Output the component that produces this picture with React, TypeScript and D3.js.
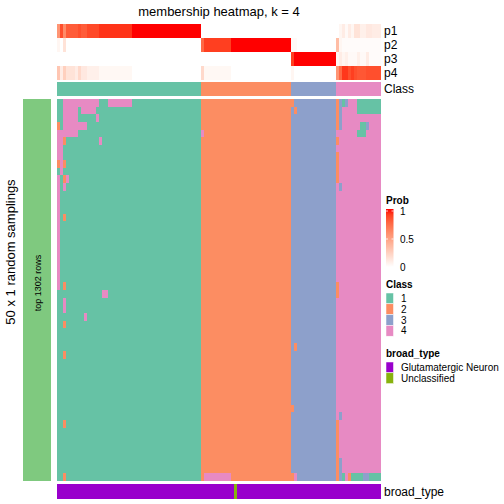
import React from "react";
import * as d3 from "d3";

// ---------- DATA ----------
const title = "membership heatmap, k = 4";
const nRows = 50;
// consensus class of each of the 108 samples (column order)
const sampleClass: number[] = [
  1,1,1,1,1,1,1,1,1,1,1,1,1,1,1,1,1,1,1,1,1,1,1,1,1,1,1,1,1,1,1,1,1,1,1,1,1,1,1,1,1,1,1,1,1,1,1,1,
  2,2,2,2,2,2,2,2,2,2,2,2,2,2,2,2,2,2,2,2,2,2,2,2,2,2,2,2,2,2,
  3,3,3,3,3,3,3,3,3,3,3,3,3,3,3,
  4,4,4,4,4,4,4,4,4,4,4,4,4,4,4,
];
const p1: number[] = [
  0.55,0.85,0.6,0.8,0.8,0.8,0.8,0.85,0.8,0.8,0.87,0.87,0.87,0.87,
  0.93,0.93,0.93,0.93,0.93,0.93,0.93,0.93,0.93,0.93,0.93,
  1,1,1,1,1,1,1,1,1,1,1,1,1,1,1,1,1,1,1,1,1,1,1,
  0,0,0,0,0,0,0,0,0,0,0,0,0,0,0,0,0,0,0,0,0,0,0,0,0,0,0,0,0,0,
  0,0,0,0,0,0,0,0,0,0,0,0,0,0,0,
  0,0.05,0.1,0.03,0.1,0.05,0.15,0.15,0.08,0.08,0.12,0.12,0.1,0.1,0.1,
];
const p2: number[] = [
  0.05,0,0.15,0,0,0,0,0,0,0,0,0,0,0,0,0,0,0,0,0,0,0,0,0,0,0,0,0,0,0,0,0,0,0,0,0,0,0,0,0,0,0,0,0,0,0,0,0,
  0.75,0.9,0.9,0.9,0.9,0.9,0.9,0.9,0.9,0.9,1,1,1,1,1,1,1,1,1,1,1,1,1,1,1,1,1,1,1,1,
  0.03,0.03,0,0,0,0,0,0,0,0,0,0,0,0,0,
  0.35,0.05,0.02,0.02,0.02,0.02,0.02,0.02,0.02,0.02,0.02,0.02,0.02,0.02,0.02,
];
const p3: number[] = [
  0,0,0,0,0,0,0,0,0,0,0,0,0,0,0,0,0,0,0,0,0,0,0,0,0,0,0,0,0,0,0,0,0,0,0,0,0,0,0,0,0,0,0,0,0,0,0,0,
  0,0,0,0,0,0,0,0,0,0,0,0,0,0,0,0,0,0,0,0,0,0,0,0,0,0,0,0,0,0,
  0.9,1,1,1,1,1,1,1,1,1,1,1,1,1,1,
  0.05,0.1,0.05,0.08,0.03,0.03,0.03,0.08,0.03,0.03,0.1,0.02,0.02,0.02,0.02,
];
const p4: number[] = [
  0.3,0.1,0.25,0.15,0.15,0.15,0.1,0.2,0.12,0.12,0.08,0.08,0.08,0.08,
  0.04,0.04,0.04,0.04,0.04,0.04,0.04,0.04,0.04,0.04,0.04,
  0,0,0,0,0,0,0,0,0,0,0,0,0,0,0,0,0,0,0,0,0,0,0,
  0.2,0.04,0.04,0.04,0.04,0.04,0.04,0.04,0.04,0.04,0,0,0,0,0,0,0,0,0,0,0,0,0,0,0,0,0,0,0,0,
  0.05,0,0,0,0,0,0,0,0,0,0,0,0,0,0,
  0.55,0.75,0.92,0.92,0.85,0.9,0.85,0.82,0.82,0.82,0.85,0.85,0.85,0.85,0.85,
];
// sampling rows that disagree with the consensus: [row, firstCol, lastCol, class]
const deviations: [number, number, number, number][] = [
  [0,2,13,4],[0,17,24,4],[1,2,6,4],[1,8,12,4],[2,2,6,4],[2,13,13,4],
  [3,0,0,2],[3,2,9,4],[4,0,6,4],[5,0,1,4],[5,2,2,2],[5,14,14,4],
  [6,0,1,4],[7,0,1,4],[8,0,0,2],[8,1,1,4],[8,2,2,2],[9,1,1,4],
  [10,0,0,4],[10,2,2,2],[10,3,3,4],[11,0,0,4],[11,2,2,4],
  [12,0,0,4],[13,0,0,4],[14,0,0,4],[15,0,0,4],[15,2,2,2],[16,0,0,4],[17,0,0,4],
  [18,0,0,4],[19,0,0,4],[20,0,0,4],[21,0,0,4],[22,0,0,4],[23,0,0,4],[24,0,0,4],[24,2,2,2],
  [25,15,16,4],[26,2,2,4],[27,2,2,4],[28,9,9,4],[29,2,2,2],[33,2,2,2],[42,2,2,2],[49,2,2,2],
  [4,48,48,4],[49,49,57,4],
  [0,78,78,2],[1,79,79,2],[32,79,79,2],[40,78,78,2],[49,78,78,2],[49,79,79,4],
  [0,93,93,2],[1,93,93,2],[2,93,93,2],[3,93,93,2],[5,93,93,2],[7,93,93,2],[8,93,93,2],
  [9,93,93,2],[10,93,93,2],[24,93,93,2],[25,93,93,2],
  [42,93,93,2],[43,93,93,2],[44,93,93,2],[45,93,93,2],[46,93,93,2],[47,93,93,2],[48,93,93,2],[49,93,93,2],
  [0,94,94,3],[1,94,94,3],[2,94,94,3],[3,94,94,3],[11,94,94,3],[41,94,94,3],
  [47,94,94,3],[48,94,94,3],[49,94,94,3],
  [0,95,95,1],[0,96,96,3],[0,100,107,1],[1,100,107,1],[3,101,102,1],[3,103,103,3],[4,100,102,1],
  [49,95,95,1],[49,96,96,4],[49,97,97,2],[49,98,101,1],[49,102,103,3],[49,104,107,1],
];
const broadType: string[] = sampleClass.map((_, i) => (i === 59 ? "Unclassified" : "Glutamatergic Neuron"));
const classLevels = ["1", "2", "3", "4"];
const broadLevels = ["Glutamatergic Neuron", "Unclassified"];
const probTicks = [0, 0.5, 1];
const probRowNames = ["p1", "p2", "p3", "p4"];

// ---------- STYLE ----------
const classColors: Record<number, string> = { 1: "#66C2A5", 2: "#FC8D62", 3: "#8DA0CB", 4: "#E78AC3" };
const broadColors: Record<string, string> = { "Glutamatergic Neuron": "#9900CC", Unclassified: "#88B20E" };
const font = "Liberation Sans, Arial, sans-serif";

export default function App() {
  const nCols = sampleClass.length;
  const cols = d3.range(nCols);
  const x = d3.scaleBand<number>().domain(cols).range([57, 381]);
  const yBody = d3.scaleBand<number>().domain(d3.range(nRows)).range([99, 481]);
  const yProb = d3.scaleBand<string>().domain(probRowNames).range([24, 80]);
  const probColor = d3.scaleLinear<string>().domain([0, 1]).range(["#FFFFFF", "#FF0000"]).interpolate(d3.interpolateLab);

  const matrix: number[][] = d3.range(nRows).map(() => sampleClass.slice());
  deviations.forEach(([r, a, b, c]) => {
    for (let j = a; j <= b; j++) matrix[r][j] = c;
  });
  const probs = [p1, p2, p3, p4];

  const cells: React.ReactElement[] = [];
  matrix.forEach((row, r) =>
    row.forEach((c, j) =>
      cells.push(
        <rect key={`c${r}-${j}`} x={x(j)} y={yBody(r)} width={x.bandwidth() + 0.3} height={yBody.bandwidth() + 0.3} fill={classColors[c]} />
      )
    )
  );

  const legY = d3.scaleLinear().domain([0, 1]).range([267, 211]);
  const gradId = "probGrad";

  return (
    <svg width={504} height={504} style={{ display: "block", position: "absolute", left: 0, top: 0 }} fontFamily={font}>
      <rect width={504} height={504} fill="#fff" />
      <text x={219} y={16} textAnchor="middle" fontSize={13}>{title}</text>

      {/* probability rows */}
      <g shapeRendering="crispEdges">
        {probs.map((p, k) =>
          p.map((v, j) => (
            <rect key={`p${k}-${j}`} x={x(j)} y={yProb(probRowNames[k])} width={x.bandwidth() + 0.3} height={yProb.bandwidth() + 0.3} fill={probColor(v)} />
          ))
        )}
        {/* class annotation */}
        {sampleClass.map((c, j) => (
          <rect key={`a${j}`} x={x(j)} y={82} width={x.bandwidth() + 0.3} height={14} fill={classColors[c]} />
        ))}
        {cells}
        {/* broad type */}
        {broadType.map((b, j) => (
          <rect key={`b${j}`} x={x(j)} y={484} width={x.bandwidth() + 0.3} height={15} fill={broadColors[b]} />
        ))}
        {/* left split bar */}
        <rect x={23} y={99} width={28} height={382} fill="#7FC97F" />
      </g>

      {probRowNames.map((n) => (
        <text key={n} x={384} y={(yProb(n) as number) + yProb.bandwidth() / 2 + 4} fontSize={12}>{n}</text>
      ))}
      <text x={384} y={93} fontSize={12}>Class</text>
      <text x={384} y={496} fontSize={12}>broad_type</text>

      <text transform="translate(15,252) rotate(-90)" textAnchor="middle" fontSize={13}>50 x 1 random samplings</text>
      <text transform="translate(40.5,283) rotate(-90)" textAnchor="middle" fontSize={9}>top 1302 rows</text>

      {/* legends */}
      <defs>
        <linearGradient id={gradId} x1="0" y1="1" x2="0" y2="0">
          {d3.range(0, 1.01, 0.1).map((t) => (
            <stop key={t} offset={t} stopColor={probColor(t)} />
          ))}
        </linearGradient>
      </defs>
      <text x={386} y={204} fontSize={10} fontWeight="bold">Prob</text>
      <rect x={386} y={209} width={7.5} height={58} fill={`url(#${gradId})`} />
      {probTicks.map((t) => (
        <g key={t}>
          <line x1={386} x2={388} y1={legY(t)} y2={legY(t)} stroke="#fff" strokeWidth={0.8} />
          <line x1={391.5} x2={393.5} y1={legY(t)} y2={legY(t)} stroke="#fff" strokeWidth={0.8} />
          <text x={400} y={legY(t) + 3.5} fontSize={10}>{t}</text>
        </g>
      ))}

      <text x={386} y={288} fontSize={10} fontWeight="bold">Class</text>
      {classLevels.map((l, i) => (
        <g key={l}>
          <rect x={386} y={293 + i * 10.8} width={7.5} height={10.8} fill={classColors[+l]} stroke="#fff" strokeWidth={0.5} />
          <text x={401} y={293 + i * 10.8 + 9} fontSize={10}>{l}</text>
        </g>
      ))}

      <text x={386} y={357} fontSize={10} fontWeight="bold">broad_type</text>
      {broadLevels.map((l, i) => (
        <g key={l}>
          <rect x={386} y={362 + i * 10.8} width={7.5} height={10.8} fill={broadColors[l]} stroke="#fff" strokeWidth={0.5} />
          <text x={401} y={362 + i * 10.8 + 9} fontSize={10}>{l}</text>
        </g>
      ))}
    </svg>
  );
}
